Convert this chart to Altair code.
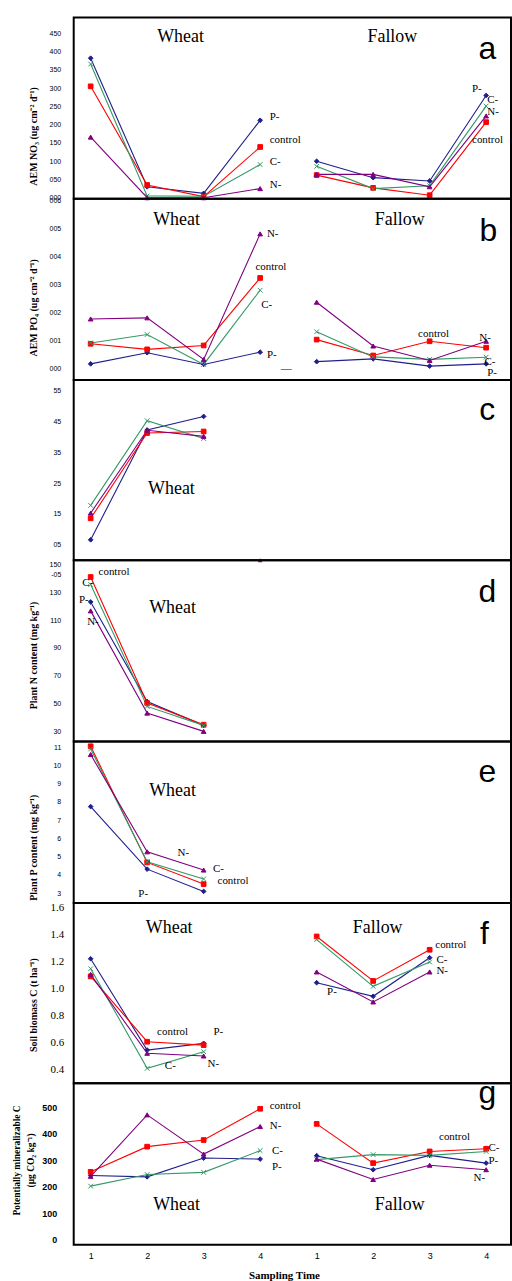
import altair as alt
import pandas as pd

SERIES = ["P-", "control", "C-", "N-"]
COLORS = ["#1f1f8c", "#ff0000", "#339966", "#800080"]
SHAPES = ["diamond", "square", "M-1,-1L1,1M-1,1L1,-1", "triangle-up"]

# ---- panel a: AEM NO3 ----
a_wheat = {"P-": [382, 30, 12, 212], "control": [305, 35, 3, 139],
           "C-": [366, 5, 4, 91], "N-": [166, 0, 0, 25]}
a_fallow = {"P-": [100, 55, 46, 280], "control": [62, 27, 7, 207],
            "C-": [86, 25, 33, 251], "N-": [64, 64, 30, 224]}
# ---- panel b: AEM PO4 ----
b_wheat = {"P-": [0.0015, 0.0055, 0.0013, 0.0057], "control": [0.0087, 0.0067, 0.0081, 0.0323],
           "C-": [0.0090, 0.0120, 0.0013, 0.0279], "N-": [0.0176, 0.0180, 0.0031, 0.0481]}
b_fallow = {"P-": [0.0023, 0.0033, 0.0007, 0.0015], "control": [0.0102, 0.0045, 0.0096, 0.0073],
            "C-": [0.0130, 0.0040, 0.0031, 0.0039], "N-": [0.0236, 0.0079, 0.0027, 0.0096]}
# ---- panel c ----
c_wheat = {"P-": [6.5, 42.3, 46.7], "control": [13.5, 41.3, 41.8],
           "C-": [17.7, 45.3, 39.5], "N-": [15.2, 42.2, 40.2]}
c_stray_slot = [4]
c_stray_value = [-0.2]
# ---- panel d: plant N ----
d_wheat = {"P-": [123.0, 51.6, 34.5], "control": [140.9, 50.5, 35.0],
           "C-": [135.5, 48.1, 34.5], "N-": [116.6, 43.3, 30.2]}
# ---- panel e: plant P ----
e_wheat = {"P-": [7.74, 4.31, 3.09], "control": [11.05, 4.68, 3.49],
           "C-": [10.9, 4.71, 3.77], "N-": [10.6, 5.26, 4.26]}
# ---- panel f: soil biomass C ----
f_wheat = {"P-": [1.222, 0.543, 0.593], "control": [1.091, 0.605, 0.580],
           "C-": [1.148, 0.407, 0.531], "N-": [1.106, 0.519, 0.499]}
f_fallow = {"P-": [1.044, 0.943, 1.230], "control": [1.388, 1.057, 1.289],
            "C-": [1.365, 1.017, 1.198], "N-": [1.124, 0.901, 1.124]}
# ---- panel g: potentially mineralizable C ----
g_wheat = {"P-": [242, 237, 308, 304], "control": [256, 351, 376, 494],
           "C-": [202, 246, 254, 336], "N-": [239, 471, 323, 427]}
g_fallow = {"P-": [317, 264, 318, 289], "control": [437, 289, 333, 343],
            "C-": [302, 321, 318, 333], "N-": [304, 227, 281, 264]}

X_TICKS = [1, 2, 3, 4, 5, 6, 7, 8]

# annotations: (text, slot, value, kind)
a_notes = [("Wheat", 2.59, 439, "W"), ("Fallow", 6.34, 439, "W"), ("a", 8.02, 379, "K"),
           ("P-", 4.17, 221, "L"), ("control", 4.17, 158, "L"), ("C-", 4.17, 98, "L"), ("N-", 4.17, 35, "L"),
           ("P-", 7.75, 297, "L"), ("C-", 8.02, 267, "L"), ("N-", 8.02, 235, "L"), ("control", 7.75, 158, "L")]
b_notes = [("Wheat", 2.52, 0.0529, "W"), ("Fallow", 6.47, 0.0529, "W"), ("b", 8.04, 0.0457, "K"),
           ("N-", 4.12, 0.0482, "L"), ("control", 4.19, 0.0361, "C"), ("C-", 4.02, 0.0225, "L"),
           ("P-", 4.12, 0.0046, "L"), ("\u2014", 4.46, -0.0004, "C"),
           ("control", 7.07, 0.0121, "C"), ("N-", 7.88, 0.0107, "L"), ("C-", 7.97, 0.0021, "L"),
           ("P-", 8.02, -0.0018, "L")]
c_notes = [("Wheat", 2.43, 23.2, "W"), ("c", 8.02, 45.6, "K")]
d_notes = [("control", 1.14, 144.3, "L"), ("C-", 0.95, 136.4, "C"), ("P-", 0.88, 124.3, "C"),
           ("N-", 1.04, 108.6, "C"), ("Wheat", 2.45, 118.6, "W"), ("d", 8.02, 122.9, "K")]
e_notes = [("Wheat", 2.45, 8.57, "W"), ("N-", 2.64, 5.19, "C"), ("C-", 3.26, 4.31, "C"),
           ("control", 3.52, 3.66, "C"), ("P-", 1.93, 2.95, "C"), ("e", 8.02, 9.07, "K")]
f_notes = [("Wheat", 2.39, 1.452, "W"), ("Fallow", 6.08, 1.452, "W"), ("f", 7.97, 1.333, "K"),
           ("control", 2.45, 0.674, "C"), ("P-", 3.26, 0.674, "C"), ("C-", 2.41, 0.422, "C"),
           ("N-", 3.17, 0.437, "C"), ("control", 7.10, 1.326, "L"), ("C-", 7.12, 1.215, "L"),
           ("N-", 7.12, 1.133, "L"), ("P-", 5.27, 0.978, "C")]
g_notes = [("control", 4.17, 504, "L"), ("N-", 4.17, 429, "L"), ("C-", 4.21, 335, "L"),
           ("P-", 4.21, 274, "L"), ("control", 7.44, 387, "C"), ("C-", 8.04, 346, "L"),
           ("P-", 8.04, 297, "L"), ("N-", 7.88, 233, "C"), ("Wheat", 2.52, 132, "W"),
           ("Fallow", 6.47, 132, "W"), ("g", 8.02, 515, "K")]

SERIF = "Liberation Serif"
SANS = "Liberation Sans"
W = 439
XDOM = [0.70, 8.44]

cscale = alt.Scale(domain=SERIES, range=COLORS)
sscale = alt.Scale(domain=SERIES, range=SHAPES)


def series_frame(wheat, fallow):
    rows = []
    for crop, block, off in (("Wheat", wheat, 0), ("Fallow", fallow, 4)):
        if block is None:
            continue
        for s, vals in block.items():
            for i, v in enumerate(vals):
                rows.append({"series": s, "crop": crop, "slot": i + 1 + off, "value": v})
    return pd.DataFrame(rows)


def notes_frame(notes):
    return pd.DataFrame(notes, columns=["text", "slot", "value", "kind"])


def panel(wheat, fallow, notes, height, domain, yaxis, xaxis=None, stray=None):
    df = series_frame(wheat, fallow)
    xs = alt.Scale(domain=XDOM, nice=False, zero=False)
    ys = alt.Scale(domain=domain, nice=False, zero=False)
    if xaxis is not None:
        xe = alt.X("slot:Q", scale=xs, axis=xaxis)
    else:
        xe = alt.X("slot:Q", scale=xs, axis=None)
    ye = alt.Y("value:Q", scale=ys, axis=yaxis)

    lines = alt.Chart(df).mark_line(strokeWidth=1.1).encode(
        x=xe, y=ye,
        color=alt.Color("series:N", scale=cscale, legend=None),
        detail="crop:N")
    pts = alt.Chart(df).mark_point(filled=True, size=22, strokeWidth=1, opacity=1).encode(
        x=xe, y=ye,
        color=alt.Color("series:N", scale=cscale, legend=None),
        stroke=alt.Stroke("series:N", scale=cscale, legend=None),
        shape=alt.Shape("series:N", scale=sscale, legend=None))
    layers = [lines, pts]
    if stray is not None:
        sdf = pd.DataFrame({"slot": stray[0], "value": stray[1]})
        layers.append(alt.Chart(sdf).mark_point(filled=True, size=22, shape="triangle-up",
                                                color="#800080", opacity=1).encode(x=xe, y=ye))

    nf = notes_frame(notes)
    styles = {
        "L": dict(align="left", baseline="middle", font=SERIF, fontSize=11),
        "C": dict(align="center", baseline="middle", font=SERIF, fontSize=11),
        "W": dict(align="center", baseline="middle", font=SERIF, fontSize=18),
        "K": dict(align="center", baseline="alphabetic", font=SANS, fontSize=32),
    }
    for k, st in styles.items():
        sub = nf[nf["kind"] == k]
        if len(sub) == 0:
            continue
        layers.append(alt.Chart(sub).mark_text(color="black", **st).encode(x=xe, y=ye, text="text:N"))
    return alt.layer(*layers).properties(width=W, height=height)


def yax(values, title, title_x, title_y, label_expr=None, fmt=None, font=SANS, size=7,
        weight="normal", pad=13, title_size=10, line_h=None):
    kw = dict(values=values, title=title, titleX=title_x, titleY=title_y, titleAngle=270,
              titleAlign="center", titleBaseline="middle", titleFont=SERIF, titleFontWeight="bold",
              titleFontSize=title_size, titleColor="black", labelFont=font, labelFontSize=size,
              labelFontWeight=weight, labelColor="black", labelPadding=pad, ticks=False,
              domain=False, grid=False, labelOverlap=False)
    if label_expr is not None:
        kw["labelExpr"] = label_expr
    if fmt is not None:
        kw["format"] = fmt
    if line_h is not None:
        kw["titleLineHeight"] = line_h
    return alt.Axis(**kw)


pa = panel(a_wheat, a_fallow, a_notes, 182, [-2.7, 493.6],
           yax(list(range(0, 451, 50)), "AEM NO\u2083 (ug cm\u207b\u00b2 d\u207b\u00b9)", -40, 119,
               label_expr="pad(toString(datum.value), 3, '0', 'left')"))
pb = panel(b_wheat, b_fallow, b_notes, 182, [-0.00429, 0.0607],
           yax([0, 0.01, 0.02, 0.03, 0.04, 0.05, 0.06], "AEM PO\u2084 (ug cm\u207b\u00b2 d\u207b\u00b9)", -40, 109,
               label_expr="pad(toString(round(datum.value * 100)), 3, '0', 'left')"))
pc = panel(c_wheat, None, c_notes, 181, [-0.19, 58.57],
           yax([5, 15, 25, 35, 45, 55], " ", -40, 90,
               label_expr="pad(toString(datum.value), 2, '0', 'left')"),
           stray=(c_stray_slot, c_stray_value))
pd_ = panel(d_wheat, None, d_notes, 182, [22.86, 152.86],
            yax([30, 50, 70, 90, 110, 130, 142.9, 150], "Plant N content (mg kg\u207b\u00b9)", -40, 95,
                label_expr="datum.value > 142 && datum.value < 144 ? '-05' : toString(datum.value)"))
pe = panel(e_wheat, None, e_notes, 162, [2.454, 11.306],
           yax([3, 4, 5, 6, 7, 8, 9, 10, 11], "Plant P content (mg kg\u207b\u00b9)", -40, 106))
pf = panel(f_wheat, f_fallow, f_notes, 181, [0.296, 1.637],
           yax([0.4, 0.6, 0.8, 1.0, 1.2, 1.4, 1.6], "Soil biomass C (t ha\u207b\u00b9)", -40, 102,
               fmt=".1f", font=SERIF, size=11, pad=10))
xax = alt.Axis(values=X_TICKS, labelExpr="toString(datum.value > 4 ? datum.value - 4 : datum.value)",
               title="Sampling Time", titleFont=SERIF, titleFontWeight="bold", titleFontSize=11,
               titleColor="black", titleX=211, titleY=25, titleAlign="center", titleBaseline="top",
               labelFont=SANS, labelFontSize=9, labelColor="black", labelPadding=7,
               ticks=False, domain=False, grid=False)
pg = panel(g_wheat, g_fallow, g_notes, 162, [-18.8, 590.2],
           yax([0, 100, 200, 300, 400, 500], ["Potentially mineralizable C", "(\u00b5g CO\u2082 kg\u207b\u00b9)"],
               -57, 77, font=SANS, size=9, weight="bold", pad=17, title_size=9.5, line_h=14),
           xaxis=xax)

chart = alt.vconcat(pa, pb, pc, pd_, pe, pf, pg, spacing=0, bounds="flush").properties(
    padding={"left": 11, "top": 14, "right": 0, "bottom": 0}
).configure_view(stroke="black", strokeWidth=2)

chart.save("out.html", embed_options={"renderer": "svg", "actions": False})
